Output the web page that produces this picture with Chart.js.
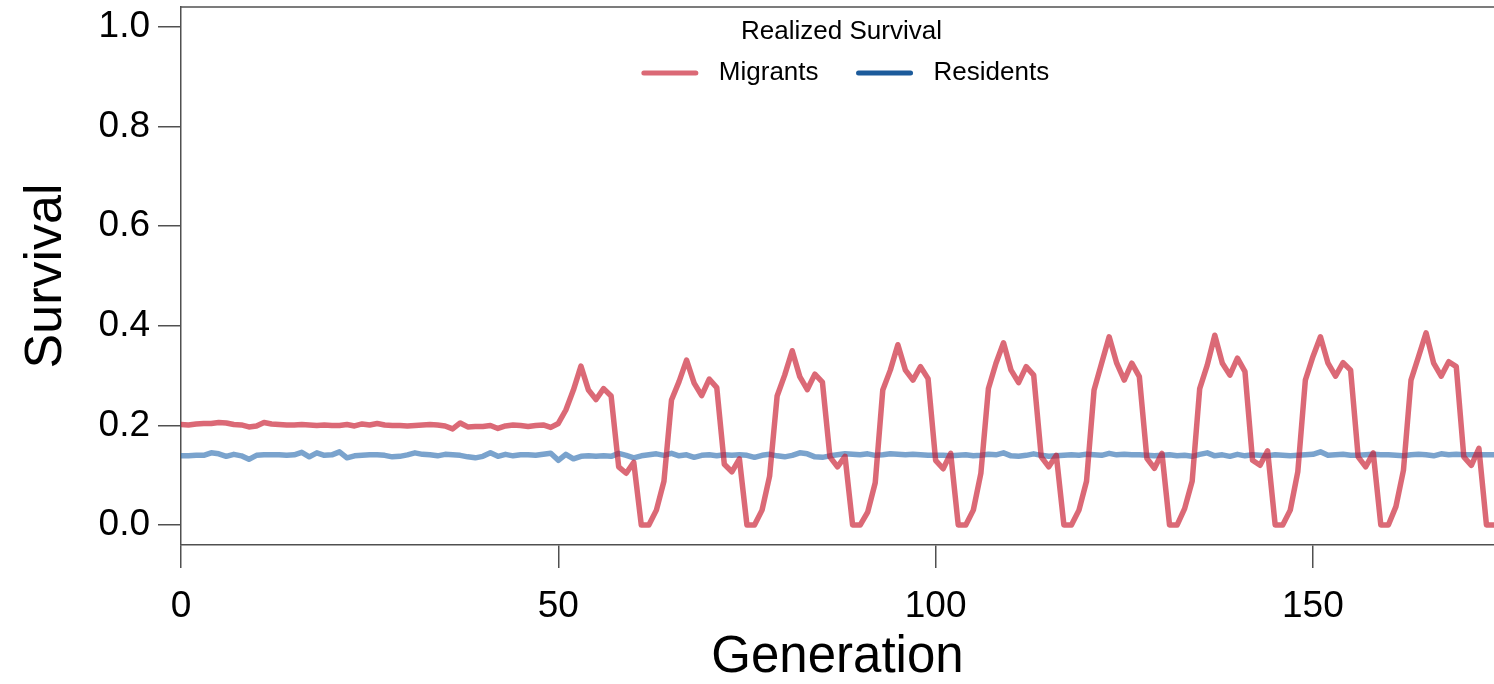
<!DOCTYPE html>
<html>
<head>
<meta charset="utf-8">
<title>Realized Survival</title>
<script src="https://cdn.jsdelivr.net/npm/chart.js@4.4.1/dist/chart.umd.min.js"></script>
<style>
  html, body { margin: 0; padding: 0; background: #fff; }
  #wrap { width: 1494px; height: 684px; position: relative; }
</style>
</head>
<body>
<div id="wrap"><canvas id="survival"></canvas></div>
<script>
/* ===== data: one value per generation, 0..174 ===== */
const migrants = [
  0.202, 0.201, 0.203, 0.204, 0.204, 0.206, 0.205, 0.202, 0.201, 0.197,
  0.199, 0.206, 0.203, 0.202, 0.201, 0.201, 0.202, 0.201, 0.200, 0.201,
  0.200, 0.200, 0.202, 0.199, 0.203, 0.201, 0.204, 0.201, 0.200, 0.200,
  0.199, 0.200, 0.201, 0.202, 0.201, 0.199, 0.193, 0.205, 0.197, 0.198,
  0.198, 0.200, 0.194, 0.199, 0.201, 0.200, 0.198, 0.200, 0.201, 0.196,
  0.204, 0.231, 0.271, 0.319, 0.271, 0.252, 0.274, 0.259, 0.117, 0.104,
  0.126, 0.000, 0.000, 0.030, 0.088, 0.251, 0.288, 0.331, 0.285, 0.260,
  0.293, 0.276, 0.122, 0.107, 0.133, 0.000, 0.000, 0.030, 0.098, 0.259,
  0.301, 0.350, 0.298, 0.272, 0.303, 0.287, 0.137, 0.117, 0.138, 0.000,
  0.000, 0.026, 0.085, 0.271, 0.311, 0.362, 0.311, 0.291, 0.318, 0.294,
  0.130, 0.113, 0.144, 0.000, 0.000, 0.030, 0.104, 0.274, 0.325, 0.366,
  0.311, 0.286, 0.318, 0.301, 0.137, 0.117, 0.140, 0.000, 0.000, 0.030,
  0.088, 0.271, 0.325, 0.378, 0.325, 0.291, 0.325, 0.298, 0.134, 0.114,
  0.144, 0.000, 0.000, 0.033, 0.088, 0.274, 0.321, 0.381, 0.325, 0.301,
  0.335, 0.308, 0.130, 0.120, 0.149, 0.000, 0.000, 0.030, 0.107, 0.291,
  0.338, 0.378, 0.325, 0.299, 0.326, 0.311, 0.137, 0.117, 0.145, 0.000,
  0.000, 0.037, 0.110, 0.291, 0.338, 0.386, 0.325, 0.299, 0.328, 0.318,
  0.137, 0.120, 0.154, 0.000, 0.000
];

const residents = [
  0.139, 0.139, 0.140, 0.140, 0.145, 0.143, 0.138, 0.142, 0.139, 0.132,
  0.140, 0.141, 0.141, 0.141, 0.140, 0.141, 0.146, 0.137, 0.145, 0.140,
  0.141, 0.147, 0.135, 0.139, 0.140, 0.141, 0.141, 0.140, 0.137, 0.138,
  0.141, 0.145, 0.142, 0.141, 0.139, 0.142, 0.141, 0.140, 0.137, 0.135,
  0.138, 0.145, 0.138, 0.142, 0.139, 0.141, 0.141, 0.140, 0.142, 0.144,
  0.130, 0.142, 0.133, 0.138, 0.139, 0.138, 0.139, 0.138, 0.144, 0.140,
  0.135, 0.139, 0.141, 0.143, 0.140, 0.144, 0.139, 0.141, 0.136, 0.140,
  0.141, 0.139, 0.141, 0.140, 0.141, 0.140, 0.136, 0.140, 0.142, 0.139,
  0.137, 0.140, 0.145, 0.143, 0.137, 0.136, 0.139, 0.141, 0.143, 0.142,
  0.141, 0.143, 0.140, 0.141, 0.143, 0.142, 0.141, 0.142, 0.141, 0.140,
  0.140, 0.140, 0.139, 0.140, 0.141, 0.139, 0.140, 0.142, 0.141, 0.145,
  0.139, 0.138, 0.140, 0.143, 0.140, 0.138, 0.139, 0.140, 0.141, 0.140,
  0.142, 0.141, 0.140, 0.144, 0.141, 0.142, 0.141, 0.141, 0.140, 0.139,
  0.140, 0.141, 0.139, 0.140, 0.138, 0.142, 0.145, 0.139, 0.141, 0.138,
  0.142, 0.139, 0.141, 0.140, 0.139, 0.141, 0.140, 0.139, 0.140, 0.141,
  0.142, 0.147, 0.140, 0.141, 0.142, 0.140, 0.140, 0.141, 0.142, 0.141,
  0.141, 0.140, 0.139, 0.141, 0.142, 0.141, 0.139, 0.143, 0.141, 0.142,
  0.141, 0.141, 0.141, 0.141, 0.141
];

const xTicks = [0, 50, 100, 150];
const yTicks = [0, 0.2, 0.4, 0.6, 0.8, 1.0];
const legendTitle = "Realized Survival";

/* ===== styling ===== */
const FONT = '"Liberation Sans", Arial, Helvetica, sans-serif';
const AXIS = "#505050";
const MIGRANT_LINE = "rgba(200,25,45,0.65)";
const RESIDENT_LINE = "rgba(33,102,172,0.6)";
const RESIDENT_KEY = "#1c5b9b";

const toPoints = (arr) => arr.map((v, gen) => ({ x: gen, y: v }));

// top edge of the frame + the legend block sitting inside the plot
const frameAndLegend = {
  id: "frameAndLegend",
  afterDatasetsDraw(chart) {
    const { ctx, chartArea: a } = chart;
    ctx.save();
    ctx.strokeStyle = AXIS;
    ctx.lineWidth = 1.5;
    ctx.beginPath();
    ctx.moveTo(a.left, a.top);
    ctx.lineTo(a.right, a.top);
    ctx.stroke();

    const cx = (a.left + a.right) / 2;
    ctx.fillStyle = "#000";
    ctx.font = `26px ${FONT}`;
    ctx.textAlign = "center";
    ctx.textBaseline = "middle";
    ctx.fillText(legendTitle, cx + 4, a.top + 25);

    const items = chart.data.datasets.map((d) => ({ label: d.label, color: d.keyColor }));
    const lineLen = 52, gap = 23, between = 40;
    const widths = items.map((it) => lineLen + gap + ctx.measureText(it.label).width);
    const total = widths.reduce((s, w) => s + w, 0) + between * (items.length - 1);
    let x = cx + 9 - total / 2;
    const y = a.top + 66;
    items.forEach((it, i) => {
      ctx.strokeStyle = it.color;
      ctx.lineWidth = 5;
      ctx.lineCap = "round";
      ctx.beginPath();
      ctx.moveTo(x, y);
      ctx.lineTo(x + lineLen, y);
      ctx.stroke();
      ctx.textAlign = "left";
      ctx.fillText(it.label, x + lineLen + gap, y);
      x += widths[i] + between;
    });
    ctx.restore();
  },
};

Chart.defaults.font.family = FONT;
Chart.defaults.color = "#000";

new Chart(document.getElementById("survival").getContext("2d"), {
  type: "line",
  data: {
    datasets: [
      {
        label: "Migrants",
        data: toPoints(migrants),
        borderColor: MIGRANT_LINE,
        keyColor: MIGRANT_LINE,
        borderWidth: 5.5,
        borderCapStyle: "round",
        borderJoinStyle: "round",
        pointRadius: 0,
        tension: 0,
      },
      {
        label: "Residents",
        data: toPoints(residents),
        borderColor: RESIDENT_LINE,
        keyColor: RESIDENT_KEY,
        borderWidth: 5.5,
        borderCapStyle: "round",
        borderJoinStyle: "round",
        pointRadius: 0,
        tension: 0,
      },
    ],
  },
  options: {
    responsive: true,
    maintainAspectRatio: false,
    animation: false,
    layout: { padding: { top: 7, right: 0, bottom: 0, left: 0 } },
    plugins: { legend: { display: false }, tooltip: { enabled: false } },
    scales: {
      x: {
        type: "linear",
        min: 0,
        max: 174,
        afterBuildTicks: (s) => { s.ticks = xTicks.map((v) => ({ value: v })); },
        afterFit: (s) => { s.height = 139; s.paddingLeft = 0; s.paddingRight = 0; },
        border: { display: true, color: AXIS, width: 1.5 },
        grid: { drawOnChartArea: false, drawTicks: true, tickLength: 23, color: AXIS, lineWidth: 1.5 },
        ticks: { font: { size: 37 }, color: "#000", padding: 17, maxRotation: 0, autoSkip: false },
        title: {
          display: true, text: "Generation", color: "#000",
          font: { size: 51, lineHeight: 1 }, padding: { top: 0, bottom: 1 },
        },
      },
      y: {
        min: -0.04,
        max: 1.04,
        afterBuildTicks: (s) => { s.ticks = yTicks.map((v) => ({ value: v })); },
        afterFit: (s) => { s.width = 181; s.paddingTop = 0; s.paddingBottom = 0; },
        border: { display: true, color: AXIS, width: 1.5 },
        grid: { drawOnChartArea: false, drawTicks: true, tickLength: 23, color: AXIS, lineWidth: 1.5 },
        ticks: { font: { size: 37 }, color: "#000", padding: 8, callback: (v) => Number(v).toFixed(1) },
        title: {
          display: true, text: "Survival", color: "#000",
          font: { size: 52, lineHeight: 1 }, padding: { top: 21, bottom: 0 },
        },
      },
    },
  },
  plugins: [frameAndLegend],
});
</script>
</body>
</html>
